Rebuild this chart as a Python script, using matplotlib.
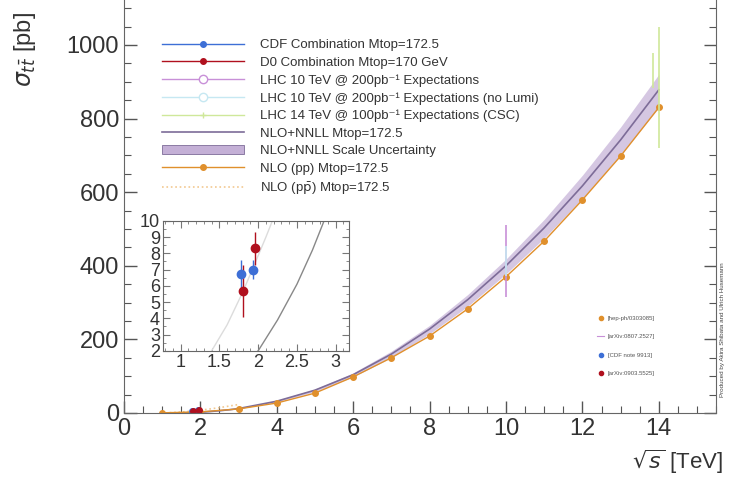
import matplotlib.pyplot as plt
import numpy as np
from matplotlib.ticker import MultipleLocator, FormatStrFormatter
from matplotlib.patches import Patch
from matplotlib.lines import Line2D

plt.rcParams['font.family'] = ['Liberation Sans', 'DejaVu Sans']

# NLO (pp), Mtop=172.5
nlo_pp_x = [1, 2, 3, 4, 5, 6, 7, 8, 9, 10, 11, 12, 13, 14]
nlo_pp_y = [0.5, 3, 11, 27, 54, 98, 150, 209, 283, 370, 467, 579, 698, 830]

# NLO (ppbar), Mtop=172.5
nlo_ppbar_x = [1.2, 1.4, 1.6, 1.8, 1.96, 2.1, 2.2, 2.5, 3.0]
nlo_ppbar_y = [1.0, 2.0, 3.6, 5.6, 7.4, 9.0, 10.2, 14.5, 23.0]

# NLO+NNLL, Mtop=172.5 (central, band low, band high)
nnll_x = [1.5, 2.0, 2.25, 2.5, 2.7, 2.85, 3, 4, 5, 6, 7, 8, 9, 10, 11, 12, 13, 14]
nnll_y = [0.3, 2.0, 3.9, 6.1, 8.2, 10.0, 12, 32, 62, 104, 160, 228, 308, 400, 503, 617, 742, 878]
nnll_lo = [0.28, 1.85, 3.6, 5.7, 7.7, 9.4, 11, 30, 58, 98, 151, 215, 290, 378, 475, 583, 701, 830]
nnll_hi = [0.33, 2.15, 4.2, 6.5, 8.8, 10.6, 13, 34, 65, 109, 168, 238, 322, 418, 526, 646, 777, 920]

# Tevatron measurements
cdf_x = [1.78, 1.93]
cdf_y = [6.7, 7.0]
cdf_err = [0.9, 0.6]
d0_x = [1.8, 1.96]
d0_y = [5.7, 8.3]
d0_err = [1.6, 1.0]

# LHC expectations
lhc10_x = [10]
lhc10_y = [413]
lhc10_err = [98]
lhc10nl_x = [10]
lhc10nl_y = [413]
lhc10nl_err = [40]
lhc14_x = [14]
lhc14_y = [885]
lhc14_err = [165]
lhc14b_x = [13.85]
lhc14b_y = [930]
lhc14b_err = [48]

refs = ['[hep-ph/0303085]', '[arXiv:0807.2527]', '[CDF note 9913]', '[arXiv:0903.5525]']

c_cdf = '#3d6fd6'
c_d0 = '#b0101e'
c_lhc10 = '#c890d8'
c_lhc10nl = '#c6e8f2'
c_lhc14 = '#cfe89a'
c_nnll = '#7d6c98'
c_band = '#c4b0d6'
c_pp = '#e0902c'
c_ppbar = '#f2c890'

fig = plt.figure(figsize=(7.33, 4.78), dpi=100)
ax = fig.add_axes([0.169, 0.136, 0.808, 0.864])

ax.fill_between(nnll_x, nnll_lo, nnll_hi, color=c_band, alpha=0.7, lw=0)
ax.plot(nnll_x, nnll_y, color=c_nnll, lw=1.2)
ax.plot(nlo_ppbar_x, nlo_ppbar_y, color=c_ppbar, lw=1.2, ls=':')
ax.plot(nlo_pp_x, nlo_pp_y, color=c_pp, lw=1.0, marker='o', ms=4)
ax.errorbar(lhc10_x, lhc10_y, yerr=lhc10_err, color=c_lhc10, lw=1.2, fmt='none')
ax.errorbar(lhc10nl_x, lhc10nl_y, yerr=lhc10nl_err, color=c_lhc10nl, lw=1.2, fmt='none')
ax.errorbar(lhc14_x, lhc14_y, yerr=lhc14_err, color=c_lhc14, lw=1.2, fmt='none')
ax.errorbar(lhc14b_x, lhc14b_y, yerr=lhc14b_err, color=c_lhc14, lw=1.2, fmt='none')
ax.errorbar(cdf_x, cdf_y, yerr=cdf_err, color=c_cdf, fmt='o', ms=4, lw=1)
ax.errorbar(d0_x, d0_y, yerr=d0_err, color=c_d0, fmt='o', ms=4, lw=1)

ax.set_xlim(0, 15.5)
ax.set_ylim(0, 1122)
ax.xaxis.set_major_locator(MultipleLocator(2))
ax.xaxis.set_minor_locator(MultipleLocator(0.5))
ax.yaxis.set_major_locator(MultipleLocator(200))
ax.yaxis.set_minor_locator(MultipleLocator(50))
ax.tick_params(which='both', direction='in', right=True, top=False, colors='#555555',
               labelcolor='#333333', labelsize=17)
ax.tick_params(which='major', length=9, width=1)
ax.tick_params(which='minor', length=5, width=0.8)
ax.spines['top'].set_visible(False)
for s in ['left', 'right', 'bottom']:
    ax.spines[s].set_color('#666666')
ax.set_ylabel(r'$\sigma_{t\bar{t}}$ [pb]', fontsize=17, color='#333333')
ax.yaxis.set_label_coords(-0.145, 0.88)
ax.set_xlabel(r'$\sqrt{s}$ [TeV]', fontsize=16, color='#333333')
ax.xaxis.set_label_coords(0.935, -0.085)

handles = [
    Line2D([], [], color=c_cdf, marker='o', ms=4, lw=1),
    Line2D([], [], color=c_d0, marker='o', ms=4, lw=1),
    Line2D([], [], color=c_lhc10, marker='o', mfc='white', ms=6, lw=1),
    Line2D([], [], color=c_lhc10nl, marker='o', mfc='white', ms=6, lw=1),
    Line2D([], [], color=c_lhc14, marker='+', ms=5, lw=1),
    Line2D([], [], color=c_nnll, lw=1.2),
    Patch(facecolor=c_band, edgecolor=c_nnll, lw=0.6),
    Line2D([], [], color=c_pp, marker='o', ms=4, lw=1),
    Line2D([], [], color=c_ppbar, ls=':', lw=1.2),
]
labels = [
    'CDF Combination Mtop=172.5',
    'D0 Combination Mtop=170 GeV',
    'LHC 10 TeV @ 200pb⁻¹ Expectations',
    'LHC 10 TeV @ 200pb⁻¹ Expectations (no Lumi)',
    'LHC 14 TeV @ 100pb⁻¹ Expectations (CSC)',
    'NLO+NNLL Mtop=172.5',
    'NLO+NNLL Scale Uncertainty',
    'NLO (pp) Mtop=172.5',
    r'NLO (p$\bar{\rm p}$) Mtop=172.5',
]
leg = ax.legend(handles, labels, loc='upper left', bbox_to_anchor=(0.065, 0.905), frameon=False,
                fontsize=9.5, handlelength=6.2, handletextpad=1.2, labelspacing=0.4,
                borderaxespad=0, borderpad=0, labelcolor='#333333')
ax.add_artist(leg)

# small reference legend
ref_handles = [
    Line2D([], [], color=c_pp, marker='o', ms=3, lw=0),
    Line2D([], [], color=c_lhc10, lw=0.8),
    Line2D([], [], color=c_cdf, marker='o', ms=3, lw=0),
    Line2D([], [], color=c_d0, marker='o', ms=3, lw=0),
]
ax.legend(ref_handles, refs, loc='upper left', bbox_to_anchor=(0.79, 0.248), frameon=False,
          fontsize=4.3, handlelength=1.2, handletextpad=0.6, labelspacing=2.2,
          labelcolor='#555555')

fig.text(0.985, 0.17, 'Produced by Akira Shibata and Ulrich Husemann', rotation=90,
         fontsize=4.5, color='#444444', ha='center', va='bottom')

# inset
axi = fig.add_axes([0.222, 0.266, 0.254, 0.272])
axi.plot(nlo_ppbar_x, nlo_ppbar_y, color='#dcdcdc', lw=1.0)
axi.plot(nnll_x, nnll_y, color='#888888', lw=1.0)
axi.errorbar(cdf_x, cdf_y, yerr=cdf_err, color=c_cdf, fmt='o', ms=6, lw=1)
axi.errorbar(d0_x, d0_y, yerr=d0_err, color=c_d0, fmt='o', ms=6, lw=1)
axi.set_xlim(0.77, 3.17)
axi.set_ylim(2, 10)
axi.xaxis.set_major_locator(MultipleLocator(0.5))
axi.xaxis.set_minor_locator(MultipleLocator(0.1))
axi.xaxis.set_major_formatter(FormatStrFormatter('%g'))
axi.yaxis.set_major_locator(MultipleLocator(1))
axi.yaxis.set_minor_locator(MultipleLocator(0.5))
axi.tick_params(which='both', direction='in', top=True, right=True, colors='#777777',
                labelcolor='#333333', labelsize=13, pad=2)
axi.tick_params(which='major', length=5)
axi.tick_params(which='minor', length=2.5)
for s in axi.spines.values():
    s.set_color('#666666')

fig.savefig('out.png', dpi=100)
